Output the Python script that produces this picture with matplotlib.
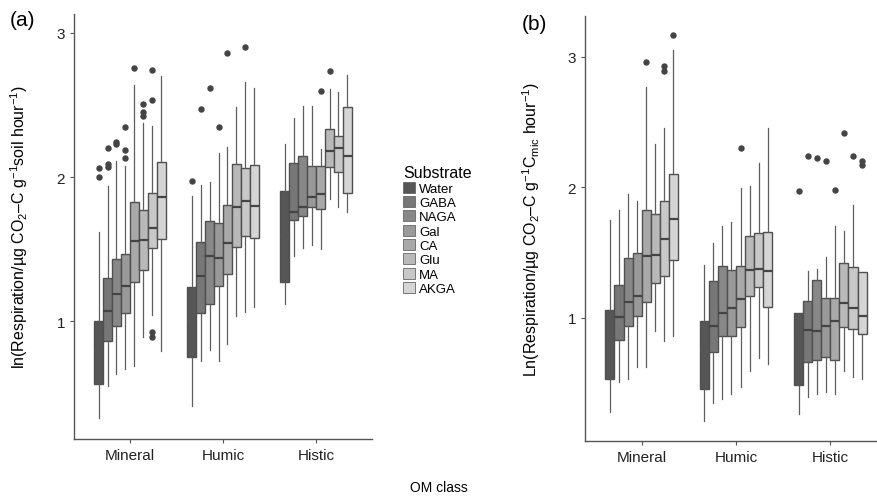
import matplotlib
matplotlib.use("Agg")
import matplotlib.pyplot as plt
from matplotlib.patches import Patch

plt.rcParams['font.family'] = ['Liberation Sans', 'DejaVu Sans']
plt.rcParams['mathtext.fontset'] = 'custom'
plt.rcParams['mathtext.rm'] = 'Liberation Sans'
plt.rcParams['mathtext.it'] = 'Liberation Sans:italic'
plt.rcParams['mathtext.bf'] = 'Liberation Sans:bold'

# 数据：每个箱子 [下须, Q1, 中位数, Q3, 上须]
classes = ['Mineral', 'Humic', 'Histic']
substrates = ['Water', 'GABA', 'NAGA', 'Gal', 'CA', 'Glu', 'MA', 'AKGA']
fills = ['#565656', '#777777', '#888888', '#999999', '#a9a9a9', '#b9b9b9', '#c8c8c8', '#d5d5d5']

# (a) 以土壤计
soil_mineral = [[0.33, 0.565, 0.80, 1.00, 1.62], [0.555, 0.865, 1.073, 1.30, 1.94],
                [0.636, 0.967, 1.193, 1.433, 2.11], [0.67, 1.057, 1.246, 1.467, 2.075],
                [0.694, 1.276, 1.555, 1.825, 2.64], [0.895, 1.36, 1.566, 1.772, 2.375],
                [1.045, 1.507, 1.647, 1.888, 2.356], [0.793, 1.571, 1.862, 2.107, 2.70]]
soil_mineral_out = [[2.00, 2.06], [2.07, 2.09, 2.20], [2.227, 2.245], [2.13, 2.185, 2.345],
                    [2.755], [2.42, 2.45, 2.51], [0.895, 0.93, 2.534, 2.744], []]
soil_humic = [[0.417, 0.752, 1.0, 1.237, 1.871], [0.729, 1.057, 1.317, 1.548, 1.947],
              [0.803, 1.121, 1.456, 1.698, 1.968], [0.729, 1.246, 1.442, 1.684, 2.17],
              [0.844, 1.329, 1.544, 1.807, 2.21], [1.036, 1.516, 1.79, 2.089, 2.483],
              [1.064, 1.594, 1.832, 2.061, 2.656], [1.098, 1.578, 1.798, 2.082, 2.615]]
soil_humic_out = [[1.975], [2.47], [2.617], [2.345], [2.862], [], [2.899], []]
soil_histic = [[1.121, 1.276, 1.6, 1.906, 2.227], [1.456, 1.703, 1.758, 2.098, 2.407],
               [1.507, 1.729, 1.795, 2.146, 2.495], [1.53, 1.79, 1.862, 2.079, 2.495],
               [1.502, 1.779, 1.883, 2.079, 2.195], [1.848, 2.068, 2.181, 2.333, 2.61],
               [1.79, 2.033, 2.2, 2.287, 2.587], [1.76, 1.89, 2.148, 2.483, 2.707]]
soil_histic_out = [[], [], [], [], [2.594], [2.733], [], []]

# (b) 以微生物量碳计
mic_mineral = [[0.283, 0.533, 0.8, 1.061, 1.75], [0.513, 0.832, 1.01, 1.255, 1.826],
               [0.533, 0.941, 1.125, 1.459, 1.949], [0.623, 1.018, 1.171, 1.495, 1.893],
               [0.623, 1.125, 1.477, 1.829, 2.765], [0.898, 1.265, 1.482, 1.796, 2.331],
               [0.827, 1.324, 1.604, 1.898, 2.454], [0.86, 1.444, 1.757, 2.099, 3.053]]
mic_mineral_out = [[], [], [], [], [2.956], [], [2.89, 2.93], [3.165]]
mic_humic = [[0.214, 0.457, 0.75, 0.979, 1.405], [0.347, 0.738, 0.941, 1.283, 1.574],
             [0.38, 0.86, 1.036, 1.40, 1.706], [0.419, 0.865, 1.074, 1.37, 1.737],
             [0.47, 0.929, 1.145, 1.40, 1.995], [0.597, 1.171, 1.365, 1.63, 2.012],
             [0.692, 1.235, 1.375, 1.653, 2.186], [0.648, 1.084, 1.357, 1.66, 2.451]]
mic_humic_out = [[], [], [], [], [2.298], [], [], []]
mic_histic = [[0.266, 0.487, 0.8, 1.036, 1.036], [0.398, 0.661, 0.908, 1.133, 1.357],
              [0.419, 0.681, 0.903, 1.288, 1.375], [0.431, 0.704, 0.941, 1.151, 1.469],
              [0.419, 0.681, 0.974, 1.155, 1.701], [0.597, 0.929, 1.115, 1.418, 1.663],
              [0.546, 0.916, 1.074, 1.388, 1.867], [0.533, 0.875, 1.018, 1.35, 1.35]]
mic_histic_out = [[1.97], [2.242], [2.222], [2.201], [1.982], [2.413], [2.239], [2.173, 2.204]]

W, H = 878, 502
fig = plt.figure(figsize=(W / 100, H / 100), dpi=100)

def draw_panel(ax, groups, outs):
    step = 0.096
    for g, (boxes, fl) in enumerate(zip(groups, outs)):
        for i, b in enumerate(boxes):
            st = dict(whislo=b[0], q1=b[1], med=b[2], q3=b[3], whishi=b[4], fliers=fl[i])
            pos = g + 1 + (i - 3.5) * step
            medc = fills[0] if i == 0 else '#444444'
            ax.bxp([st], positions=[pos], widths=step, patch_artist=True, showcaps=False,
                   boxprops=dict(facecolor=fills[i], edgecolor='#505050', linewidth=1.0),
                   medianprops=dict(color=medc, linewidth=1.6),
                   whiskerprops=dict(color='#5e5e5e', linewidth=0.9),
                   flierprops=dict(marker='o', markersize=3.6, markerfacecolor='#444444',
                                   markeredgecolor='#444444'))
    ax.set_xlim(0.4, 3.6)
    ax.set_xticks([1, 2, 3])
    ax.set_xticklabels(classes)
    ax.set_yticks([1, 2, 3])
    ax.set_yticklabels(['1', '2', '3'])
    for s in ['top', 'right']:
        ax.spines[s].set_visible(False)
    for s in ['left', 'bottom']:
        ax.spines[s].set_color('#555555')
        ax.spines[s].set_linewidth(1.0)
    ax.tick_params(colors='#555555', labelcolor='#222222', labelsize=11, length=3, width=0.8)

# (a)
ax1 = fig.add_axes([74 / W, (H - 440) / H, (372 - 74) / W, (440 - 15) / H])
draw_panel(ax1, [soil_mineral, soil_humic, soil_histic],
           [soil_mineral_out, soil_humic_out, soil_histic_out])
ax1.set_ylim(0.186, 3.13)
ax1.set_ylabel(r'ln(Respiration/µg CO$_2$–C g$^{-1}$soil hour$^{-1}$)', fontsize=11.5, labelpad=19)

# (b)
ax2 = fig.add_axes([585 / W, (H - 442) / H, (887 - 585) / W, (442 - 17) / H])
draw_panel(ax2, [mic_mineral, mic_humic, mic_histic],
           [mic_mineral_out, mic_humic_out, mic_histic_out])
ax2.set_ylim(0.059, 3.31)
ax2.set_ylabel(r'Ln(Respiration/µg CO$_2$–C g$^{-1}$C$_{\mathrm{mic}}$ hour$^{-1}$)', fontsize=11.5, labelpad=18)

fig.text(10 / W, 1 - 20 / H, '(a)', fontsize=15, va='center', ha='left')
fig.text(522 / W, 1 - 24 / H, '(b)', fontsize=15, va='center', ha='left')
fig.text(439 / W, 1 - 488 / H, 'OM class', fontsize=10, ha='center', va='center')

handles = [Patch(facecolor=c, edgecolor='#666666', linewidth=0.6) for c in fills]
leg = fig.legend(handles, substrates, loc='upper left', bbox_to_anchor=(394 / W, 1 - 157 / H),
                 frameon=False, title='Substrate', fontsize=9.5, title_fontsize=11.5,
                 handlelength=0.9, handleheight=0.9, handletextpad=0.3, labelspacing=0.1,
                 borderpad=0.2)
leg._legend_box.align = 'left'

fig.savefig('out.png', dpi=100)
